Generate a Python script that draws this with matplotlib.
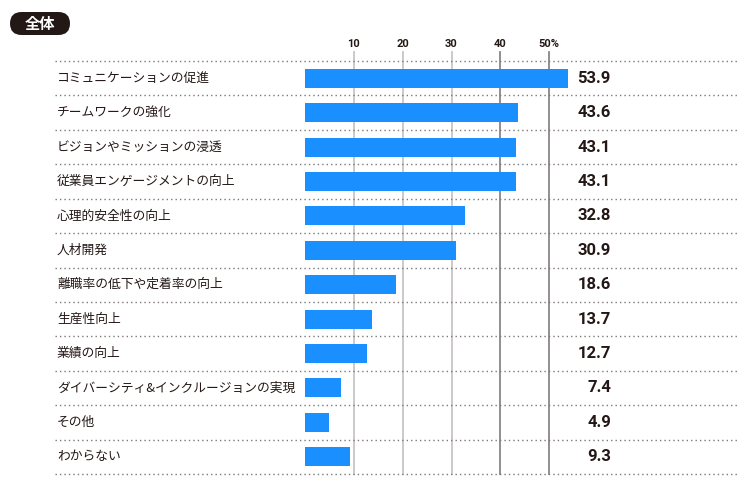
import matplotlib.pyplot as plt
import matplotlib.transforms as mtransforms
from matplotlib.patches import FancyBboxPatch

plt.rcParams['font.family'] = ['Noto Sans CJK JP', 'DejaVu Sans']

# data
categories = ['コミュニケーションの促進', 'チームワークの強化', 'ビジョンやミッションの浸透',
              '従業員エンゲージメントの向上', '心理的安全性の向上', '人材開発',
              '離職率の低下や定着率の向上', '生産性向上', '業績の向上',
              'ダイバーシティ&インクルージョンの実現', 'その他', 'わからない']
values = [53.9, 43.6, 43.1, 43.1, 32.8, 30.9, 18.6, 13.7, 12.7, 7.4, 4.9, 9.3]
tick_vals = [10, 20, 30, 40, 50]
tick_labels = ['10', '20', '30', '40', '50%']

W, H = 750, 490
fig = plt.figure(figsize=(W / 100, H / 100), dpi=100)

# axes in pixel positions: left 55 -> right 737, top 61 -> bottom 474
px0, px1 = 55, 737
py_top, py_bot = 61, 474
ax = fig.add_axes([px0 / W, 1 - py_bot / H, (px1 - px0) / W, (py_bot - py_top) / H])
scale = 4.885  # px per unit
zero_px = 305
ax.set_xlim((px0 - zero_px) / scale, (px1 - zero_px) / scale)
n = len(categories)
ax.set_ylim(n - 0.5, -0.5)
ax.axis('off')

bar_color = '#1a8fff'
text_color = '#231815'

# grid lines
for t, lab in zip(tick_vals, tick_labels):
    c = '#8a8586' if t >= 40 else '#c9c5c5'
    ax.plot([t, t], [n - 0.5, -0.76], color=c, lw=1.3, clip_on=False, zorder=1)
    ax.text(t, -0.84, lab, ha='center', va='bottom', fontsize=8, fontweight='bold',
            color=text_color, family=['Roboto', 'DejaVu Sans'])

# dotted separators
for i in range(n + 1):
    ax.plot([(px0 - zero_px) / scale, (px1 - zero_px) / scale], [i - 0.5, i - 0.5],
            color='#7d7879', lw=1.0, ls=(0, (1, 2.2)), zorder=2, clip_on=False)

ax.barh(range(n), values, height=0.55, color=bar_color, zorder=3)

label_x = (57 - zero_px) / scale
value_x = (611 - zero_px) / scale
for i, (cat, v) in enumerate(zip(categories, values)):
    ax.text(label_x, i, cat, ha='left', va='center', fontsize=9.2, color=text_color)
    ax.text(value_x, i, f'{v:.1f}', ha='right', va='center', fontsize=12,
            fontweight='bold', color=text_color, family=['Roboto', 'DejaVu Sans'])

# badge (pixel coordinates from bottom-left)
badge = FancyBboxPatch((10, H - 35), 60, 23,
                       boxstyle='round,pad=0,rounding_size=11.5',
                       transform=mtransforms.IdentityTransform(),
                       facecolor='#231815', edgecolor='none')
fig.add_artist(badge)
fig.text(40 / W, 1 - 23.5 / H, '全体', ha='center', va='center', color='white',
         fontsize=11, fontweight='bold')

fig.savefig('out.png', dpi=100)
